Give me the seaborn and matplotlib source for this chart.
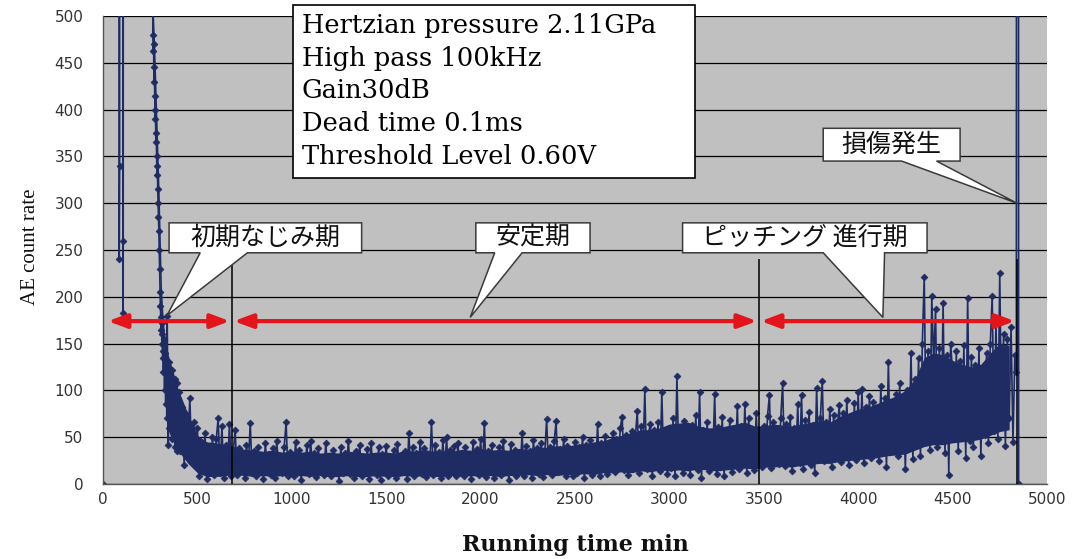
import numpy as np
import pandas as pd
import matplotlib
matplotlib.use("Agg")
import matplotlib.pyplot as plt
import seaborn as sns
from matplotlib.patches import Polygon, Rectangle

sns.set_theme(style="white")
plt.rcParams['font.family'] = ['DejaVu Sans']

# --- data (AE counts, 2000 = off scale) ---
start_time = [0, 2, 84, 86, 88, 90, 104, 106, 107, 109]
start_count = [0, 2000, 2000, 240, 340, 2000, 2000, 260, 183, 2000]

early_time = [260, 264, 266, 268, 270, 272, 274, 276, 278, 280,
              282, 284, 286, 288, 290, 292, 294, 296, 298, 300,
              302, 304, 306, 308, 310, 312, 314, 316, 318, 320,
              323, 326, 329, 332, 335, 338, 340, 343, 346, 349,
              352, 355, 358, 361, 364, 367, 370, 373, 376, 379,
              382, 385, 388, 391, 394, 397]
early_count = [2000, 480, 463, 470, 430, 445, 415, 390, 400, 365,
               375, 350, 330, 340, 315, 300, 285, 270, 250, 230,
               205, 190, 178, 165, 172, 150, 160, 135, 142, 120,
               155, 100, 140, 85, 125, 70, 180, 110, 42, 130,
               60, 118, 75, 105, 48, 122, 68, 98, 55, 112,
               40, 90, 62, 108, 35, 85]

# every 10 min from 400 to 4790
main_count = [
    98, 35, 82, 20, 75, 45, 92, 28, 66, 40,
    60, 8, 45, 15, 55, 5, 38, 22, 50, 10,
    48, 70, 12, 62, 6, 42, 18, 64, 9, 35,
    58, 10, 38, 15, 30, 6, 42, 20, 65, 12,
    35, 8, 40, 18, 28, 5, 44, 14, 32, 10,
    38, 6, 46, 20, 30, 12, 40, 66, 8, 34,
    28, 9, 45, 16, 36, 4, 30, 18, 42, 11,
    46, 14, 33, 7, 38, 20, 27, 10, 44, 15,
    30, 8, 36, 17, 25, 3, 40, 12, 33, 19,
    46, 11, 29, 6, 35, 18, 42, 9, 28, 14,
    37, 5, 44, 16, 30, 10, 39, 4, 32, 20,
    41, 8, 27, 15, 36, 6, 43, 12, 31, 18,
    35, 5, 55, 14, 40, 9, 33, 17, 45, 11,
    38, 7, 30, 13, 66, 10, 42, 19, 34, 6,
    47, 15, 50, 8, 36, 20, 41, 9, 44, 13,
    33, 9, 40, 14, 28, 5, 45, 17, 37, 10,
    48, 12, 65, 7, 35, 19, 42, 6, 30, 15,
    39, 10, 46, 18, 31, 4, 43, 13, 36, 8,
    29, 16, 54, 9, 41, 14, 35, 6, 47, 18,
    38, 11, 44, 7, 33, 69, 15, 40, 10, 46,
    67, 13, 37, 19, 48, 8, 41, 15, 35, 9,
    45, 12, 39, 20, 50, 6, 42, 16, 47, 10,
    38, 18, 64, 9, 44, 22, 51, 11, 40, 17,
    55, 13, 48, 21, 60, 72, 15, 52, 10, 46,
    57, 19, 50, 78, 12, 62, 24, 101, 16, 55,
    64, 9, 58, 22, 66, 14, 98, 20, 54, 11,
    60, 17, 70, 8, 115, 25, 56, 12, 67, 19,
    52, 10, 63, 21, 74, 15, 98, 6, 58, 23,
    66, 14, 55, 26, 96, 11, 61, 18, 72, 9,
    57, 22, 68, 13, 50, 25, 83, 16, 62, 20,
    85, 12, 70, 27, 59, 15, 76, 30, 55, 18,
    62, 24, 73, 95, 17, 66, 29, 58, 21, 70,
    108, 19, 64, 31, 72, 14, 60, 27, 85, 22,
    95, 16, 68, 33, 77, 20, 63, 12, 103, 28,
    71, 110, 25, 66, 35, 80, 18, 74, 30, 62,
    84, 24, 76, 38, 90, 20, 70, 33, 86, 26,
    98, 31, 102, 22, 82, 40, 94, 28, 88, 36,
    79, 25, 105, 38, 92, 18, 130, 34, 85, 42,
    96, 30, 108, 44, 88, 16, 100, 38, 140, 27,
    112, 45, 135, 30, 150, 221, 52, 142, 36, 201,
    128, 187, 40, 145, 58, 193, 33, 138, 10, 150,
    120, 48, 142, 35, 131, 55, 148, 28, 199, 46,
    136, 39, 127, 60, 145, 30, 122, 52, 140, 44,
    150, 201, 57, 173, 48, 225, 62, 160, 41, 155,
]
main_time = list(np.arange(400, 400 + 10 * len(main_count), 10))

tail_time = [4800, 4810, 4820, 4830, 4838, 4840, 4848, 4850]
tail_count = [70, 168, 45, 138, 120, 2000, 2000, 0]

# dense part of the initial spike: lower / upper edge
spike_time = [262, 268, 274, 280, 286, 292, 298, 304, 310, 318, 326, 334, 342, 350]
spike_low = [470, 440, 400, 360, 320, 280, 240, 190, 160, 130, 110, 85, 65, 55]
spike_high = [500, 500, 470, 430, 390, 350, 310, 260, 210, 180, 160, 150, 140, 135]

# dense part of the trace: lower / upper edge, every 50 min from 350
band_low = [55, 35, 22, 12, 8, 8, 9, 10, 9, 8,
            9, 8, 9, 8, 9, 8, 9, 8, 8, 9,
            8, 8, 9, 8, 8, 9, 8, 9, 8, 8,
            9, 8, 9, 8, 9, 8, 9, 9, 10, 9,
            10, 9, 10, 10, 11, 10, 12, 12, 13, 12,
            14, 13, 15, 14, 15, 14, 16, 15, 14, 15,
            16, 17, 16, 18, 18, 19, 18, 20, 21, 22,
            22, 24, 25, 26, 27, 28, 30, 31, 32, 36,
            40, 42, 42, 44, 45, 46, 48, 52, 56, 58]
band_high = [135, 100, 75, 52, 45, 44, 42, 40, 37, 36,
             35, 36, 34, 35, 34, 35, 33, 34, 33, 35,
             34, 33, 34, 34, 33, 36, 35, 37, 35, 36,
             35, 37, 36, 38, 36, 37, 36, 38, 37, 40,
             39, 41, 40, 42, 43, 45, 46, 50, 52, 55,
             58, 58, 60, 64, 65, 66, 62, 60, 60, 62,
             64, 66, 62, 62, 64, 63, 62, 64, 66, 68,
             66, 72, 76, 80, 82, 86, 90, 94, 100, 112,
             135, 140, 138, 132, 128, 125, 128, 140, 150, 148]
band_time = list(np.arange(350, 350 + 50 * len(band_low), 50))

# phases
phase_lines = [683, 3475, 4841]
phase_line_top = 240
arrow_start = [26, 693, 3485]
arrow_end = [672, 3464, 4830]
arrow_level = 174

params = ["Hertzian pressure 2.11GPa", "High pass 100kHz", "Gain30dB",
          "Dead time 0.1ms", "Threshold Level 0.60V"]

# callouts: label, box (x0, x1, y0, y1), wedge base (b0, b1), tip (x, y)
callouts = [
    ("初期なじみ期", (350, 1370, 247, 279), (515, 765), (339, 180)),
    ("安定期", (1975, 2580, 247, 279), (2075, 2220), (1945, 178)),
    ("ピッチング 進行期", (3070, 4365, 247, 279), (3815, 4140), (4131, 178)),
    ("損傷発生", (3815, 4540, 345, 380), (4230, 4415), (4841, 300)),
]

navy = '#1F2B63'
red = '#E3151B'

df = pd.DataFrame({
    'time': start_time + early_time + main_time + tail_time,
    'count': start_count + early_count + main_count + tail_count,
})

fig = plt.figure(figsize=(10.75, 5.59), dpi=100)
ax = fig.add_axes([0.0958, 0.1342, 0.8781, 0.8372])
ax.set_facecolor('#C0C0C0')

ax.set_axisbelow(True)
ax.yaxis.grid(True, color='black', lw=0.9)
ax.xaxis.grid(False)

ax.fill_between(spike_time, spike_low, spike_high, color=navy, lw=0, zorder=2)
ax.fill_between(band_time, band_low, band_high, color=navy, lw=0, zorder=2)
sns.lineplot(data=df, x='time', y='count', estimator=None, sort=False,
             errorbar=None, color=navy, lw=1.2, marker='D', markersize=3.5,
             markeredgecolor=navy, markeredgewidth=0.5, ax=ax, zorder=2)

ax.vlines(phase_lines, 0, phase_line_top, colors='black', lw=1.1, zorder=3)

for x0, x1 in zip(arrow_start, arrow_end):
    ax.annotate('', xy=(x1, arrow_level), xytext=(x0, arrow_level),
                arrowprops=dict(arrowstyle='<|-|>,head_length=0.8,head_width=0.3',
                                color=red, lw=3, shrinkA=0, shrinkB=0,
                                mutation_scale=14), zorder=4)

for label, (bx0, bx1, by0, by1), (w0, w1), (tx, ty) in callouts:
    pts = [(bx0, by1), (bx1, by1), (bx1, by0), (w1, by0), (tx, ty),
           (w0, by0), (bx0, by0)]
    ax.add_patch(Polygon(pts, closed=True, facecolor='white',
                         edgecolor='#3A3A3A', lw=1.1, zorder=6, clip_on=False))
    ax.text((bx0 + bx1) / 2, (by0 + by1) / 2, label, ha='center', va='center',
            fontsize=18, color='#111111', zorder=7,
            family=['Noto Sans CJK JP', 'DejaVu Sans'])

# parameter box
ax.add_patch(Rectangle((0.2013, 0.654), 0.4257, 0.3695, transform=ax.transAxes,
                       facecolor='white', edgecolor='black', lw=1.2,
                       clip_on=False, zorder=8))
for i, line in enumerate(params):
    ax.text(0.2108, 0.9637 - i * 0.0700, line, transform=ax.transAxes,
            ha='left', va='baseline', fontsize=18.5, family='DejaVu Serif',
            color='black', zorder=9, clip_on=False)

ax.set_xlim(0, 5000)
ax.set_ylim(0, 500)
ax.set_xticks(range(0, 5001, 500))
ax.set_yticks(range(0, 501, 50))
ax.tick_params(axis='both', direction='in', length=5, color='#555555',
               labelsize=11, labelcolor='#333333')
ax.tick_params(axis='x', pad=6)
ax.tick_params(axis='y', pad=14)

for side in ['top', 'right']:
    ax.spines[side].set_visible(False)
for side in ['left', 'bottom']:
    ax.spines[side].set_color('#555555')
    ax.spines[side].set_linewidth(1)

ax.set_xlabel('Running time min', fontsize=16, fontweight='bold',
              family='DejaVu Serif', color='#111111')
ax.xaxis.set_label_coords(0.5, -0.13)
ax.xaxis.label.set_va('center')
ax.set_ylabel('AE count rate', fontsize=15, family='Liberation Serif',
              color='#111111')
ax.yaxis.set_label_coords(-0.0773, 0.506)
ax.yaxis.label.set_va('center')

fig.savefig('out.png', dpi=100)
